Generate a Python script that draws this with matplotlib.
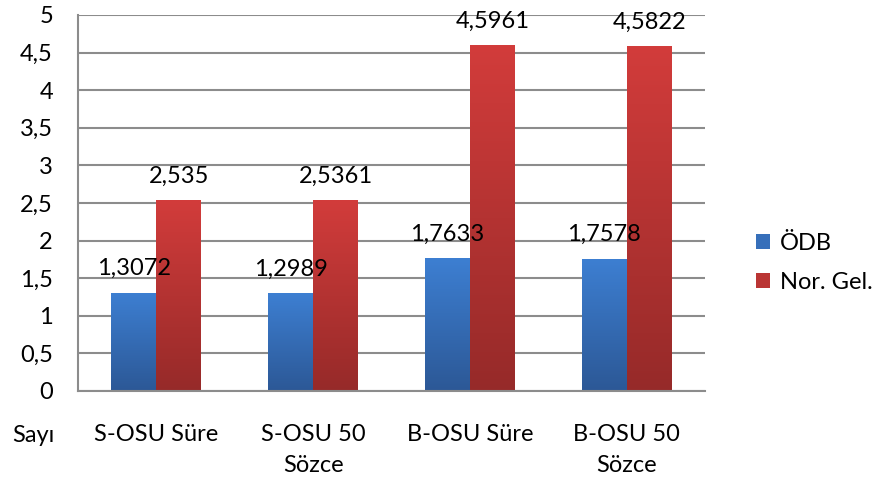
import numpy as np
import matplotlib
matplotlib.use('Agg')
from matplotlib import pyplot as plt
from matplotlib.colors import LinearSegmentedColormap
from matplotlib.patches import Patch

# chart values
categories = ['S-OSU Süre', 'S-OSU 50\nSözce', 'B-OSU Süre', 'B-OSU 50\nSözce']
odb = [1.3072, 1.2989, 1.7633, 1.7578]
norgel = [2.535, 2.5361, 4.5961, 4.5822]
series_names = ['ÖDB', 'Nor. Gel.']
odb_labels = ['1,3072', '1,2989', '1,7633', '1,7578']
norgel_labels = ['2,535', '2,5361', '4,5961', '4,5822']
yticks = [0, 0.5, 1, 1.5, 2, 2.5, 3, 3.5, 4, 4.5, 5]
ytick_labels = ['0', '0,5', '1', '1,5', '2', '2,5', '3', '3,5', '4', '4,5', '5']

plt.rcParams['font.family'] = ['Lato', 'DejaVu Sans']
fs = 17

blue_cm = LinearSegmentedColormap.from_list('b', ['#2c5896', '#3d7fd2'])
red_cm = LinearSegmentedColormap.from_list('r', ['#962a29', '#d23c3b'])

fig = plt.figure(figsize=(8.75, 4.82), dpi=100)
ax = fig.add_axes([0.0891, 0.1888, 0.7166, 0.7801])

x = np.arange(len(categories))
w = 0.287
grad = np.linspace(0, 1, 256).reshape(-1, 1)

# bars with a vertical gradient, clipped to each bar
def gradient_bars(xs, vals, cmap):
    bars = ax.bar(xs, vals, w, zorder=2)
    for b in bars:
        b.set_facecolor('none')
        b.set_edgecolor('none')
        bx, by = b.get_x(), b.get_y()
        im = ax.imshow(grad, cmap=cmap, origin='lower', aspect='auto',
                       extent=[bx, bx + b.get_width(), by, by + b.get_height()], zorder=2)
        im.set_clip_path(b)
    return bars

gradient_bars(x - w / 2, odb, blue_cm)
gradient_bars(x + w / 2, norgel, red_cm)

for xi, v, t in zip(x - w / 2, odb, odb_labels):
    ax.annotate(t, (xi, v), xytext=(0, 10), textcoords='offset points',
                ha='center', va='bottom', fontsize=fs, zorder=5)
for xi, v, t in zip(x + w / 2, norgel, norgel_labels):
    ax.annotate(t, (xi, v), xytext=(0, 10), textcoords='offset points',
                ha='center', va='bottom', fontsize=fs, zorder=5)

ax.set_xlim(-0.5, len(categories) - 0.5)
ax.set_ylim(0, 5)
ax.set_yticks(yticks)
ax.set_yticklabels(ytick_labels, fontsize=fs)
ax.set_xticks(x)
ax.set_xticklabels(categories, fontsize=fs, linespacing=1.55)
ax.tick_params(axis='y', length=0, pad=18)
ax.tick_params(axis='x', length=0, pad=24)
ax.yaxis.grid(True, color='#8c8c8c', linewidth=1.5, zorder=0)
ax.set_axisbelow(True)
for s in ['top', 'right']:
    ax.spines[s].set_visible(False)
for s in ['left', 'bottom']:
    ax.spines[s].set_color('#8c8c8c')
    ax.spines[s].set_linewidth(1.5)

fig.text(33 / 875, 1 - 436 / 482, 'Sayı', fontsize=fs, ha='center', va='center')

handles = [Patch(facecolor=blue_cm(0.6)), Patch(facecolor=red_cm(0.6))]
fig.legend(handles, series_names, loc='center left', bbox_to_anchor=(0.84, 0.455),
           frameon=False, fontsize=fs, handlelength=0.6, handleheight=0.6,
           handletextpad=0.4, labelspacing=0.75)

fig.savefig('out.png', dpi=100)
